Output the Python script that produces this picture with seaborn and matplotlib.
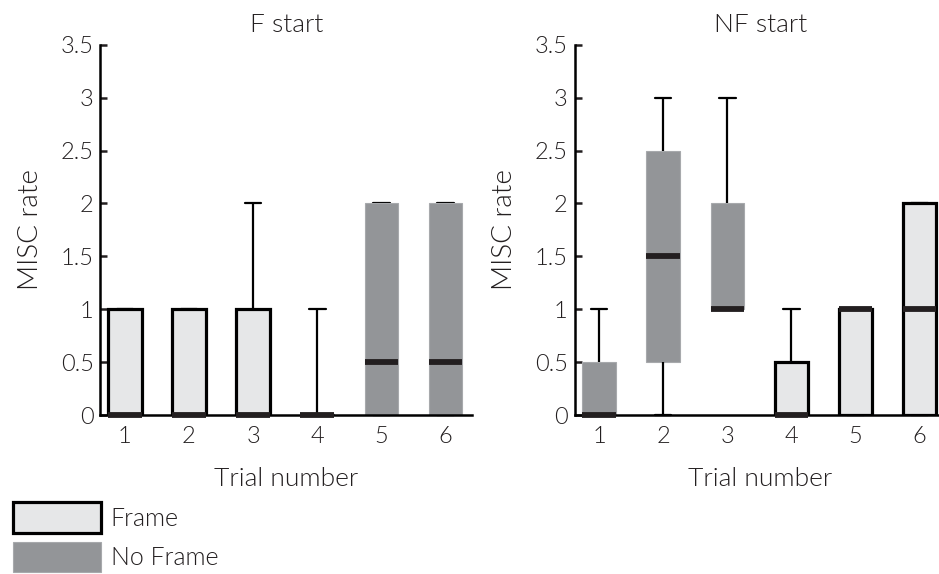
import numpy as np
import pandas as pd
import matplotlib
matplotlib.use("Agg")
import matplotlib.pyplot as plt
from matplotlib.patches import Patch
from matplotlib.colors import to_hex
import seaborn as sns

trials = [1, 2, 3, 4, 5, 6]
conditions = ["Frame", "No Frame"]
colors = {"Frame": "#e6e7e8", "No Frame": "#939598"}

# MISC rate per trial, 5 values each -> min, q1, median, q3, max of each box
f_start_rates = [
    [0, 0, 0, 1, 1],
    [0, 0, 0, 1, 1],
    [0, 0, 0, 1, 2],
    [0, 0, 0, 0, 1],
    [0, 0, 0.5, 2, 2],
    [0, 0, 0.5, 2, 2],
]
f_start_cond = ["Frame", "Frame", "Frame", "Frame", "No Frame", "No Frame"]

nf_start_rates = [
    [0, 0, 0, 0.5, 1],
    [0, 0.5, 1.5, 2.5, 3],
    [1, 1, 1, 2, 3],
    [0, 0, 0, 0.5, 1],
    [0, 0, 1, 1, 1],
    [0, 0, 1, 2, 2],
]
nf_start_cond = ["No Frame", "No Frame", "No Frame", "Frame", "Frame", "Frame"]

y_ticks = [0, 0.5, 1, 1.5, 2, 2.5, 3, 3.5]
y_ticklabels = ["0", "0.5", "1", "1.5", "2", "2.5", "3", "3.5"]


def to_long(rates, cond):
    rows = []
    for t, vals, c in zip(trials, rates, cond):
        for v in vals:
            rows.append({"Trial": t, "MISC rate": v, "Condition": c})
    return pd.DataFrame(rows)


sns.set_style("ticks")
plt.rcParams["font.family"] = ["Lato", "DejaVu Sans"]
plt.rcParams["font.weight"] = 300
plt.rcParams["axes.titleweight"] = 300
plt.rcParams["axes.labelweight"] = 300
for key in ["text.color", "axes.labelcolor", "xtick.color", "ytick.color"]:
    plt.rcParams[key] = "#231f20"

fig = plt.figure(figsize=(9.39, 5.74), dpi=100)
ax_f = fig.add_axes([0.107, 0.277, 0.396, 0.645])
ax_nf = fig.add_axes([0.612, 0.277, 0.396, 0.645])

panels = [
    (ax_f, "F start", f_start_rates, f_start_cond),
    (ax_nf, "NF start", nf_start_rates, nf_start_cond),
]

for ax, title, rates, cond in panels:
    df = to_long(rates, cond)
    sns.boxplot(
        data=df, x="Trial", y="MISC rate", hue="Condition",
        order=trials, hue_order=conditions, palette=colors,
        saturation=1, dodge=False, width=0.52, whis=(0, 100),
        showfliers=False, linecolor="black", linewidth=1.6,
        medianprops=dict(color="#231f20", linewidth=4.2),
        legend=False, ax=ax,
    )
    # Frame boxes get a heavy black outline, No Frame a thin grey one
    for p in ax.patches:
        p.set_zorder(2)
        if to_hex(p.get_facecolor()) == colors["Frame"]:
            p.set_edgecolor("black")
            p.set_linewidth(2.3)
        else:
            p.set_edgecolor("#a7a9ac")
            p.set_linewidth(0.8)
    for ln in ax.lines:
        ln.set_clip_on(False)
        xd, yd = np.asarray(ln.get_xdata()), np.asarray(ln.get_ydata())
        # caps sit under the boxes so they vanish where they touch a box edge
        if len(xd) == 2 and yd[0] == yd[1] and abs(xd[1] - xd[0]) < 0.4:
            ln.set_zorder(0.5)
        elif len(xd) == 2 and yd[0] == yd[1]:
            ln.set_zorder(3)

    ax.set_xlim(-0.38, 5.42)
    ax.set_ylim(0, 3.5)
    ax.set_yticks(y_ticks)
    ax.set_yticklabels(y_ticklabels)
    ax.set_title(title, fontsize=19, pad=9)
    ax.set_xlabel("Trial number", fontsize=19, labelpad=14)
    ax.set_ylabel("MISC rate", fontsize=20, labelpad=13)
    ax.tick_params(axis="y", direction="in", length=5, width=1.8,
                   labelsize=17, pad=5)
    ax.tick_params(axis="x", length=0, labelsize=17, pad=8)
    sns.despine(ax=ax)
    for s in ["left", "bottom"]:
        ax.spines[s].set_linewidth(1.8)
        ax.spines[s].set_color("black")

handles = [
    Patch(facecolor=colors["Frame"], edgecolor="black", linewidth=2.3),
    Patch(facecolor=colors["No Frame"], edgecolor="#a7a9ac", linewidth=0.8),
]
fig.legend(handles, conditions, loc="upper left", bbox_to_anchor=(0.014, 0.125),
           frameon=False, fontsize=18, handlelength=3.5, handleheight=1.5,
           handletextpad=0.4, labelspacing=0.35, borderpad=0, borderaxespad=0)

fig.savefig("out.png", dpi=100)
